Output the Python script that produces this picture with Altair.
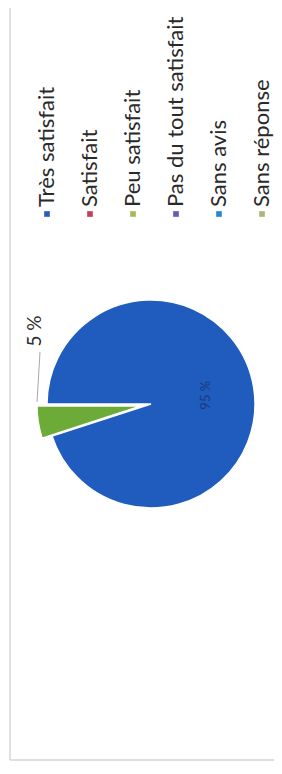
import math
import altair as alt
import pandas as pd

# Legend categories and colours
categories = ["Très satisfait", "Satisfait", "Peu satisfait",
              "Pas du tout satisfait", "Sans avis", "Sans réponse"]
legend_colors = ["#2a5cbf", "#c0405a", "#a2b95c", "#6a5aae", "#2a88d0", "#a6b872"]

# Pie slices (non-zero shares only)
pie_categories = ["Très satisfait", "Peu satisfait"]
pie_values = [95, 5]
pie_labels = ["95 %", "5 %"]
pie_colors = ["#1f5cbd", "#6cab38"]
pie_order = [0, 1]

legend_df = pd.DataFrame({"cat": categories, "col": legend_colors})
pie_df = pd.DataFrame({"cat": pie_categories, "value": pie_values,
                       "label": pie_labels, "col": pie_colors, "ord": pie_order})

FONT = "Lato"
CX, CY, R = 143, 396, 104

theta_scale = alt.Scale(domain=[0, 100], range=[1.5 * math.pi, 3.5 * math.pi])

pie_base = (alt.Chart(pie_df)
            .transform_window(cum="sum(value)", sort=[alt.SortField("ord")])
            .transform_calculate(start="datum.cum - datum.value",
                                 mid="datum.cum - datum.value / 2"))

blue_arc = pie_base.transform_filter(alt.datum.ord == 0).mark_arc(
    radius=R, stroke="white", strokeWidth=1.5
).encode(
    x=alt.value(CX), y=alt.value(CY),
    theta=alt.Theta("start:Q", scale=theta_scale),
    theta2="cum:Q",
    color=alt.Color("col:N", scale=None),
)

green_arc = pie_base.transform_filter(alt.datum.ord == 1).mark_arc(
    radius=R, stroke="white", strokeWidth=1.5, xOffset=-10, yOffset=2
).encode(
    x=alt.value(CX), y=alt.value(CY),
    theta=alt.Theta("start:Q", scale=theta_scale),
    theta2="cum:Q",
    color=alt.Color("col:N", scale=None),
)

inner_label = pie_base.transform_filter(alt.datum.ord == 0).mark_text(
    radius=56, angle=270, font=FONT, fontSize=13, color="#1d3a78",
    align="center", baseline="middle"
).encode(
    x=alt.value(CX), y=alt.value(CY),
    theta=alt.Theta("mid:Q", scale=theta_scale, stack=False),
    text="label:N",
)

outer_label = pie_base.transform_filter(alt.datum.ord == 1).mark_text(
    angle=270, font=FONT, fontSize=19, color="#2e2e2e",
    align="center", baseline="middle"
).encode(
    x=alt.value(27), y=alt.value(323),
    text="label:N",
)

leader = alt.Chart(pie_df.head(1)).mark_rule(color="#a8a8a8", strokeWidth=1).encode(
    x=alt.value(32), y=alt.value(344), x2=alt.value(29), y2=alt.value(394)
)

x_leg = alt.X("cat:N", scale=alt.Scale(type="point", domain=categories,
                                       range=[39, 254], padding=0), axis=None)

legend_marks = alt.Chart(legend_df).mark_square(size=32, opacity=1).encode(
    x=x_leg, y=alt.value(206), color=alt.Color("col:N", scale=None)
)

legend_text = alt.Chart(legend_df).mark_text(
    angle=270, font=FONT, fontSize=22, color="#2a2a2a",
    align="left", baseline="middle"
).encode(
    x=x_leg, y=alt.value(199), text="cat:N"
)

border_left = alt.Chart(legend_df.head(1)).mark_rule(color="#d6d6d6", strokeWidth=1.5).encode(
    x=alt.value(2), y=alt.value(-8), y2=alt.value(752)
)
border_bottom = alt.Chart(legend_df.head(1)).mark_rule(color="#d6d6d6", strokeWidth=1.5).encode(
    x=alt.value(2), x2=alt.value(274), y=alt.value(752)
)

chart = alt.layer(
    border_left, border_bottom,
    blue_arc, green_arc, inner_label, leader, outer_label,
    legend_marks, legend_text,
).properties(
    width=266, height=758, autosize="none", padding=0, background="white"
).configure_view(stroke=None)

chart.save("out.html", embed_options={"renderer": "svg", "actions": False})
